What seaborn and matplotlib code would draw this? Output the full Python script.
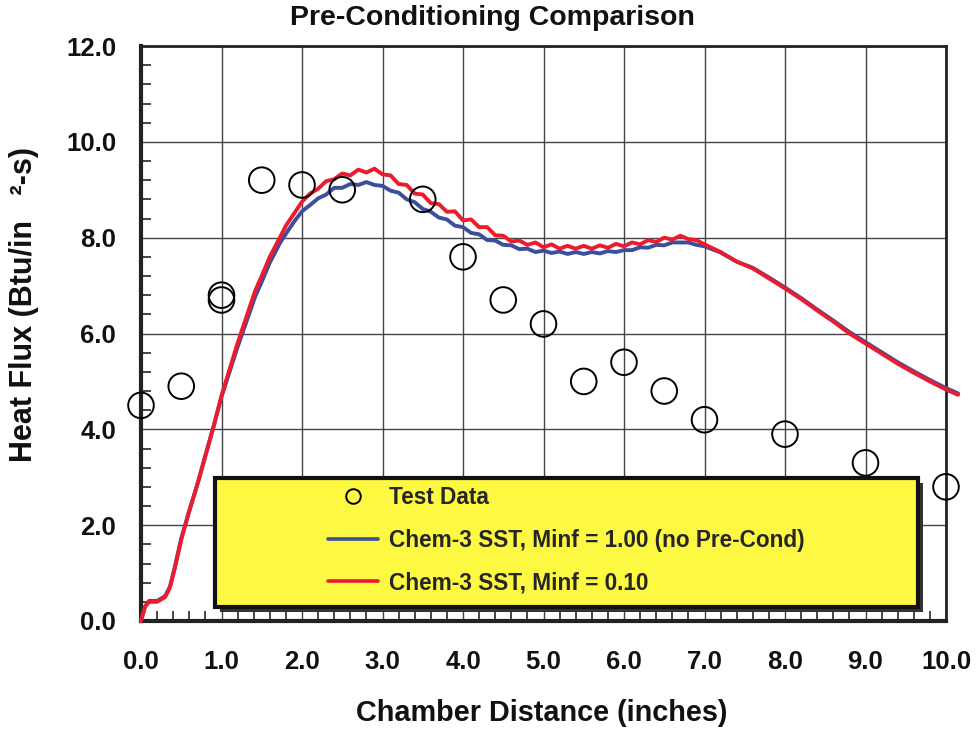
import matplotlib
matplotlib.use("Agg")
import matplotlib.pyplot as plt
import seaborn as sns
import pandas as pd
from matplotlib.patches import Rectangle
from matplotlib.lines import Line2D
from matplotlib.ticker import MultipleLocator, FormatStrFormatter

# ---------------- data ----------------
test_x = [0.0, 0.5, 1.0, 1.0, 1.5, 2.0, 2.5, 3.5, 4.0, 4.5, 5.0, 5.5, 6.0, 6.5, 7.0, 8.0, 9.0, 10.0]
test_y = [4.5, 4.9, 6.8, 6.7, 9.2, 9.1, 9.0, 8.8, 7.6, 6.7, 6.2, 5.0, 5.4, 4.8, 4.2, 3.9, 3.3, 2.8]

curve_x = [0.0, 0.05, 0.1, 0.2, 0.3, 0.36, 0.42, 0.5, 0.6, 0.7, 0.8, 0.9, 1.0, 1.1, 1.2, 1.3, 1.42,
           1.5, 1.6, 1.73, 1.8, 1.9, 2.0,
           2.1, 2.2, 2.3, 2.4, 2.5, 2.6, 2.7, 2.8, 2.9, 3.0,
           3.1, 3.2, 3.3, 3.4, 3.5, 3.6, 3.7, 3.8, 3.9, 4.0,
           4.1, 4.2, 4.3, 4.4, 4.5, 4.6, 4.7, 4.8, 4.9, 5.0,
           5.1, 5.2, 5.3, 5.4, 5.5, 5.6, 5.7, 5.8, 5.9, 6.0,
           6.1, 6.2, 6.3, 6.4, 6.5, 6.6, 6.7, 6.8, 6.9, 7.0,
           7.2, 7.4, 7.6, 7.8, 8.0, 8.2, 8.4, 8.6, 8.8, 9.0, 9.2, 9.4, 9.6, 9.8, 10.0, 10.15]

minf_010 = [0.0, 0.3, 0.4, 0.4, 0.5, 0.7, 1.1, 1.7, 2.3, 2.85, 3.45, 4.05, 4.7, 5.25, 5.8, 6.3, 6.9,
            7.2, 7.6, 8.02, 8.25, 8.5, 8.75,
            8.92, 9.02, 9.18, 9.22, 9.34, 9.30, 9.42, 9.36, 9.44, 9.32,
            9.30, 9.12, 9.10, 8.92, 8.90, 8.72, 8.70, 8.54, 8.55, 8.36,
            8.38, 8.22, 8.22, 8.05, 8.04, 7.92, 7.94, 7.85, 7.90, 7.80,
            7.86, 7.77, 7.83, 7.77, 7.83, 7.77, 7.84, 7.79, 7.87, 7.82,
            7.90, 7.86, 7.95, 7.91, 8.00, 7.96, 8.04, 7.97, 7.95, 7.86,
            7.70, 7.50, 7.36, 7.15, 6.94, 6.72, 6.48, 6.25, 6.00, 5.79, 5.58, 5.37, 5.18, 5.00, 4.83, 4.72]

minf_100 = [0.0, 0.3, 0.42, 0.42, 0.52, 0.72, 1.13, 1.72, 2.3, 2.85, 3.45, 4.05, 4.68, 5.2, 5.72, 6.2, 6.78,
            7.08, 7.48, 7.9, 8.08, 8.33, 8.55,
            8.68, 8.82, 8.90, 9.04, 9.04, 9.12, 9.10, 9.16, 9.10, 9.08,
            8.98, 8.94, 8.80, 8.74, 8.60, 8.54, 8.42, 8.38, 8.25, 8.22,
            8.10, 8.07, 7.95, 7.94, 7.85, 7.84, 7.76, 7.77, 7.70, 7.73,
            7.68, 7.71, 7.66, 7.70, 7.66, 7.70, 7.67, 7.72, 7.70, 7.74,
            7.74, 7.80, 7.79, 7.85, 7.84, 7.90, 7.90, 7.90, 7.85, 7.82,
            7.69, 7.50, 7.37, 7.17, 6.96, 6.74, 6.50, 6.27, 6.03, 5.82, 5.61, 5.40, 5.21, 5.03, 4.86, 4.75]

legend_labels = ["Test Data", "Chem-3 SST, Minf = 1.00 (no Pre-Cond)", "Chem-3 SST, Minf = 0.10"]

# ---------------- style ----------------
sns.set_theme(style="white")
plt.rcParams["font.family"] = ["Liberation Sans", "DejaVu Sans"]
plt.rcParams["font.weight"] = "bold"

BLUE = "#3c4e9e"
RED = "#ec1c2e"
INK = "#111111"

fig = plt.figure(figsize=(9.77, 7.30), dpi=100)
ax = fig.add_axes([141 / 977, 1 - 621 / 730, 805 / 977, 575 / 730])

df_curves = pd.DataFrame({"x": curve_x, "blue": minf_100, "red": minf_010})
df_test = pd.DataFrame({"x": test_x, "y": test_y})

sns.lineplot(data=df_curves, x="x", y="blue", ax=ax, color=BLUE, lw=2.8, sort=False,
             estimator=None, clip_on=False, zorder=4)
sns.lineplot(data=df_curves, x="x", y="red", ax=ax, color=RED, lw=2.8, sort=False,
             estimator=None, clip_on=False, zorder=5)
sns.scatterplot(data=df_test, x="x", y="y", ax=ax, marker="o", s=340, facecolors="none",
                edgecolor="black", linewidth=1.4, clip_on=False, zorder=6)

ax.set_xlim(0, 10)
ax.set_ylim(0, 12)
ax.xaxis.set_major_locator(MultipleLocator(1))
ax.xaxis.set_minor_locator(MultipleLocator(0.2))
ax.yaxis.set_major_locator(MultipleLocator(2))
ax.yaxis.set_minor_locator(MultipleLocator(0.4))
ax.xaxis.set_major_formatter(FormatStrFormatter("%.1f"))
ax.yaxis.set_major_formatter(FormatStrFormatter("%.1f"))

ax.grid(True, which="major", color="#444444", lw=1.0)
ax.set_axisbelow(True)

ax.tick_params(axis="x", which="major", direction="inout", length=18, width=1.3,
               labelsize=18.5, pad=12, colors=INK)
ax.tick_params(axis="y", which="major", direction="out", length=9, width=1.3,
               labelsize=18.5, pad=9, colors=INK)
ax.tick_params(which="minor", direction="in", length=7, width=1.2, bottom=True, left=True)
ax.tick_params(which="both", top=False, right=False)
for lab in ax.get_xticklabels() + ax.get_yticklabels():
    lab.set_fontweight("bold")

ax.spines["left"].set_linewidth(3.0)
ax.spines["bottom"].set_linewidth(3.0)
ax.spines["top"].set_linewidth(2.0)
ax.spines["right"].set_linewidth(2.0)
for s in ax.spines.values():
    s.set_color("#222222")

ax.set_xlabel("")
ax.set_ylabel("")

# legend box with shadow
bx0, bx1 = (215 - 141) / 805, (918 - 141) / 805
by0, by1 = (621 - 607) / 575, (621 - 478) / 575
shadow = Rectangle((bx0 + 5 / 805, by0 - 5 / 575), bx1 - bx0, by1 - by0, transform=ax.transAxes,
                   facecolor="#333333", edgecolor="none", zorder=6)
box = Rectangle((bx0, by0), bx1 - bx0, by1 - by0, transform=ax.transAxes,
                facecolor="#fdf842", edgecolor=INK, lw=3.0, zorder=7)
ax.add_patch(shadow)
ax.add_patch(box)

handles = [
    Line2D([], [], marker="o", ls="none", markersize=10.5, markerfacecolor="none",
           markeredgecolor="black", markeredgewidth=1.4),
    Line2D([], [], color=BLUE, lw=2.6),
    Line2D([], [], color=RED, lw=2.6),
]
leg = ax.legend(handles, legend_labels, loc="center left",
                bbox_to_anchor=((328 - 141) / 805, (621 - 540) / 575),
                frameon=False, prop={"size": 16.3, "weight": "bold"},
                handlelength=2.2, labelspacing=0.88, handletextpad=0.5, borderpad=0,
                borderaxespad=0)
leg.set_zorder(8)

fig.text(492 / 977, 1 - 18 / 730, "Pre-Conditioning Comparison", ha="center", va="center",
         fontsize=20.5, fontweight="bold", color=INK)
fig.text(542 / 977, 1 - 713 / 730, "Chamber Distance (inches)", ha="center", va="center",
         fontsize=20.8, fontweight="bold", color=INK)
fig.text(24 / 977, 1 - 304 / 730, "Heat Flux (Btu/in   ²-s)", ha="center", va="center",
         rotation=90, fontsize=22, fontweight="bold", color=INK)

fig.savefig("out.png", dpi=100)
